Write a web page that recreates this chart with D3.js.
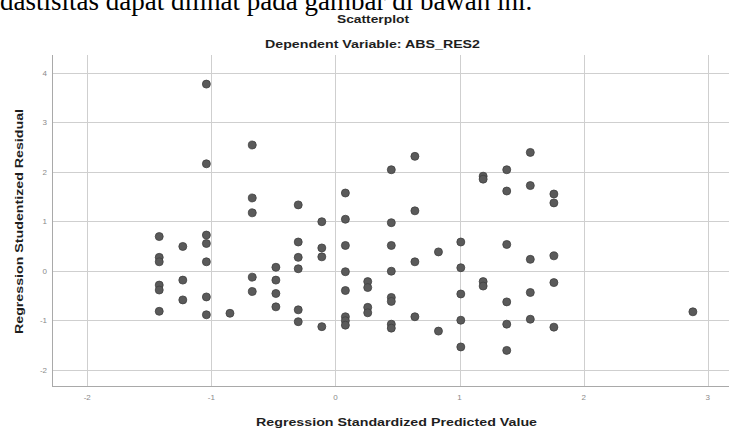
<!DOCTYPE html>
<html>
<head>
<meta charset="utf-8">
<script src="https://cdn.jsdelivr.net/npm/d3@7"></script>
<style>
  body { margin: 0; background: #fff; overflow: hidden; }
  svg { display: block; }
  .tick-label { font-family: "Liberation Sans", Arial, sans-serif; font-size: 8px; fill: #8a8a8a; }
  .axis-title { font-family: "Liberation Sans", Arial, sans-serif; font-size: 11px; font-weight: bold; fill: #1e1e1e; }
</style>
</head>
<body>
<div id="scatterplot"></div>
<script>
// data (predicted value, studentized residual)
const predicted = [
  -1.42, -1.42, -1.42, -1.42, -1.42, -1.42,
  -1.23, -1.23, -1.23,
  -1.04, -1.04, -1.04, -1.04, -1.04, -1.04, -1.04,
  -0.85,
  -0.67, -0.67, -0.67, -0.67, -0.67,
  -0.48, -0.48, -0.48, -0.48,
  -0.30, -0.30, -0.30, -0.30, -0.30, -0.30,
  -0.11, -0.11, -0.11, -0.11,
  0.08, 0.08, 0.08, 0.08, 0.08, 0.08, 0.08, 0.08,
  0.26, 0.26, 0.26, 0.26,
  0.45, 0.45, 0.45, 0.45, 0.45, 0.45, 0.45, 0.45,
  0.64, 0.64, 0.64, 0.64,
  0.83, 0.83,
  1.01, 1.01, 1.01, 1.01, 1.01,
  1.19, 1.19, 1.19, 1.19,
  1.38, 1.38, 1.38, 1.38, 1.38, 1.38,
  1.57, 1.57, 1.57, 1.57, 1.57,
  1.76, 1.76, 1.76, 1.76, 1.76,
  2.88
];
const residual = [
  0.69, 0.27, 0.18, -0.29, -0.39, -0.82,
  0.49, -0.19, -0.59,
  3.77, 2.16, 0.72, 0.55, 0.18, -0.53, -0.89,
  -0.86,
  2.54, 1.47, 1.17, -0.13, -0.42,
  0.07, -0.19, -0.46, -0.73,
  1.33, 0.58, 0.27, 0.04, -0.79, -1.03,
  0.99, 0.46, 0.28, -1.13,
  1.57, 1.04, 0.51, -0.02, -0.40, -0.93, -1.01, -1.10,
  -0.22, -0.34, -0.74, -0.85,
  2.04, 0.97, 0.51, -0.01, -0.54, -0.62, -1.08, -1.16,
  2.31, 1.21, 0.18, -0.93,
  0.38, -1.22,
  0.58, 0.06, -0.47, -1.00, -1.54,
  1.91, 1.85, -0.22, -0.31,
  2.04, 1.61, 0.53, -0.63, -1.08, -1.61,
  2.39, 1.72, 0.23, -0.44, -0.98,
  1.55, 1.37, 0.30, -0.24, -1.14,
  -0.83
];
const xTicks = [-2, -1, 0, 1, 2, 3];
const yTicks = [-2, -1, 0, 1, 2, 3, 4];

const width = 729, height = 431;
const margin = { top: 55, right: 0, bottom: 45, left: 52 };

const data = predicted.map((p, i) => ({ p, r: residual[i] }));

const svg = d3.select("#scatterplot")
  .append("svg")
  .attr("width", width)
  .attr("height", height);

// sentence cut off above the figure
svg.append("text")
  .attr("x", 0)
  .attr("y", 10)
  .attr("font-family", "Liberation Serif, Times New Roman, serif")
  .attr("font-size", 27)
  .attr("fill", "#000")
  .text("dastisitas dapat dilihat pada gambar di bawah ini.");

const xScale = d3.scaleLinear()
  .domain([-2.284, 3.171])
  .range([margin.left, width - margin.right]);

const yScale = d3.scaleLinear()
  .domain([-2.329, 4.358])
  .range([height - margin.bottom, margin.top]);

// grid lines
svg.append("g")
  .selectAll("line")
  .data(yTicks)
  .join("line")
  .attr("x1", margin.left)
  .attr("x2", width)
  .attr("y1", d => Math.round(yScale(d)) + 0.5)
  .attr("y2", d => Math.round(yScale(d)) + 0.5)
  .attr("stroke", "#cfcfcf");

svg.append("g")
  .selectAll("line")
  .data(xTicks)
  .join("line")
  .attr("x1", d => Math.round(xScale(d)) + 0.5)
  .attr("x2", d => Math.round(xScale(d)) + 0.5)
  .attr("y1", margin.top)
  .attr("y2", height - margin.bottom)
  .attr("stroke", "#cfcfcf");

// axis lines
svg.append("line")
  .attr("x1", margin.left + 0.5).attr("x2", margin.left + 0.5)
  .attr("y1", margin.top).attr("y2", height - margin.bottom)
  .attr("stroke", "#a9a9a9");
svg.append("line")
  .attr("x1", margin.left).attr("x2", width)
  .attr("y1", height - margin.bottom + 0.5).attr("y2", height - margin.bottom + 0.5)
  .attr("stroke", "#a9a9a9");

// tick labels
svg.append("g")
  .selectAll("text")
  .data(yTicks)
  .join("text")
  .attr("class", "tick-label")
  .attr("x", 47)
  .attr("y", d => yScale(d) + 3)
  .attr("text-anchor", "end")
  .text(d => d);

svg.append("g")
  .selectAll("text")
  .data(xTicks)
  .join("text")
  .attr("class", "tick-label")
  .attr("x", d => xScale(d))
  .attr("y", 400)
  .attr("text-anchor", "middle")
  .text(d => d);

// points
svg.append("g")
  .selectAll("circle")
  .data(data)
  .join("circle")
  .attr("cx", d => xScale(d.p))
  .attr("cy", d => yScale(d.r))
  .attr("r", 4)
  .attr("fill", "#5a5a5a")
  .attr("stroke", "#404040")
  .attr("stroke-width", 0.8);

// titles
svg.append("text")
  .attr("class", "axis-title")
  .attr("x", 373).attr("y", 23)
  .attr("text-anchor", "middle")
  .attr("font-size", 10)
  .attr("fill", "#333")
  .attr("textLength", 72)
  .attr("lengthAdjust", "spacingAndGlyphs")
  .text("Scatterplot");

svg.append("text")
  .attr("class", "axis-title")
  .attr("x", 372.5).attr("y", 47.5)
  .attr("text-anchor", "middle")
  .attr("textLength", 215)
  .attr("lengthAdjust", "spacingAndGlyphs")
  .text("Dependent Variable: ABS_RES2");

svg.append("text")
  .attr("class", "axis-title")
  .attr("x", 396.5).attr("y", 426)
  .attr("text-anchor", "middle")
  .attr("textLength", 281)
  .attr("lengthAdjust", "spacingAndGlyphs")
  .text("Regression Standardized Predicted Value");

svg.append("text")
  .attr("class", "axis-title")
  .attr("transform", "translate(22.5, 221.5) rotate(-90)")
  .attr("text-anchor", "middle")
  .attr("textLength", 225)
  .attr("lengthAdjust", "spacingAndGlyphs")
  .text("Regression Studentized Residual");
</script>
</body>
</html>
